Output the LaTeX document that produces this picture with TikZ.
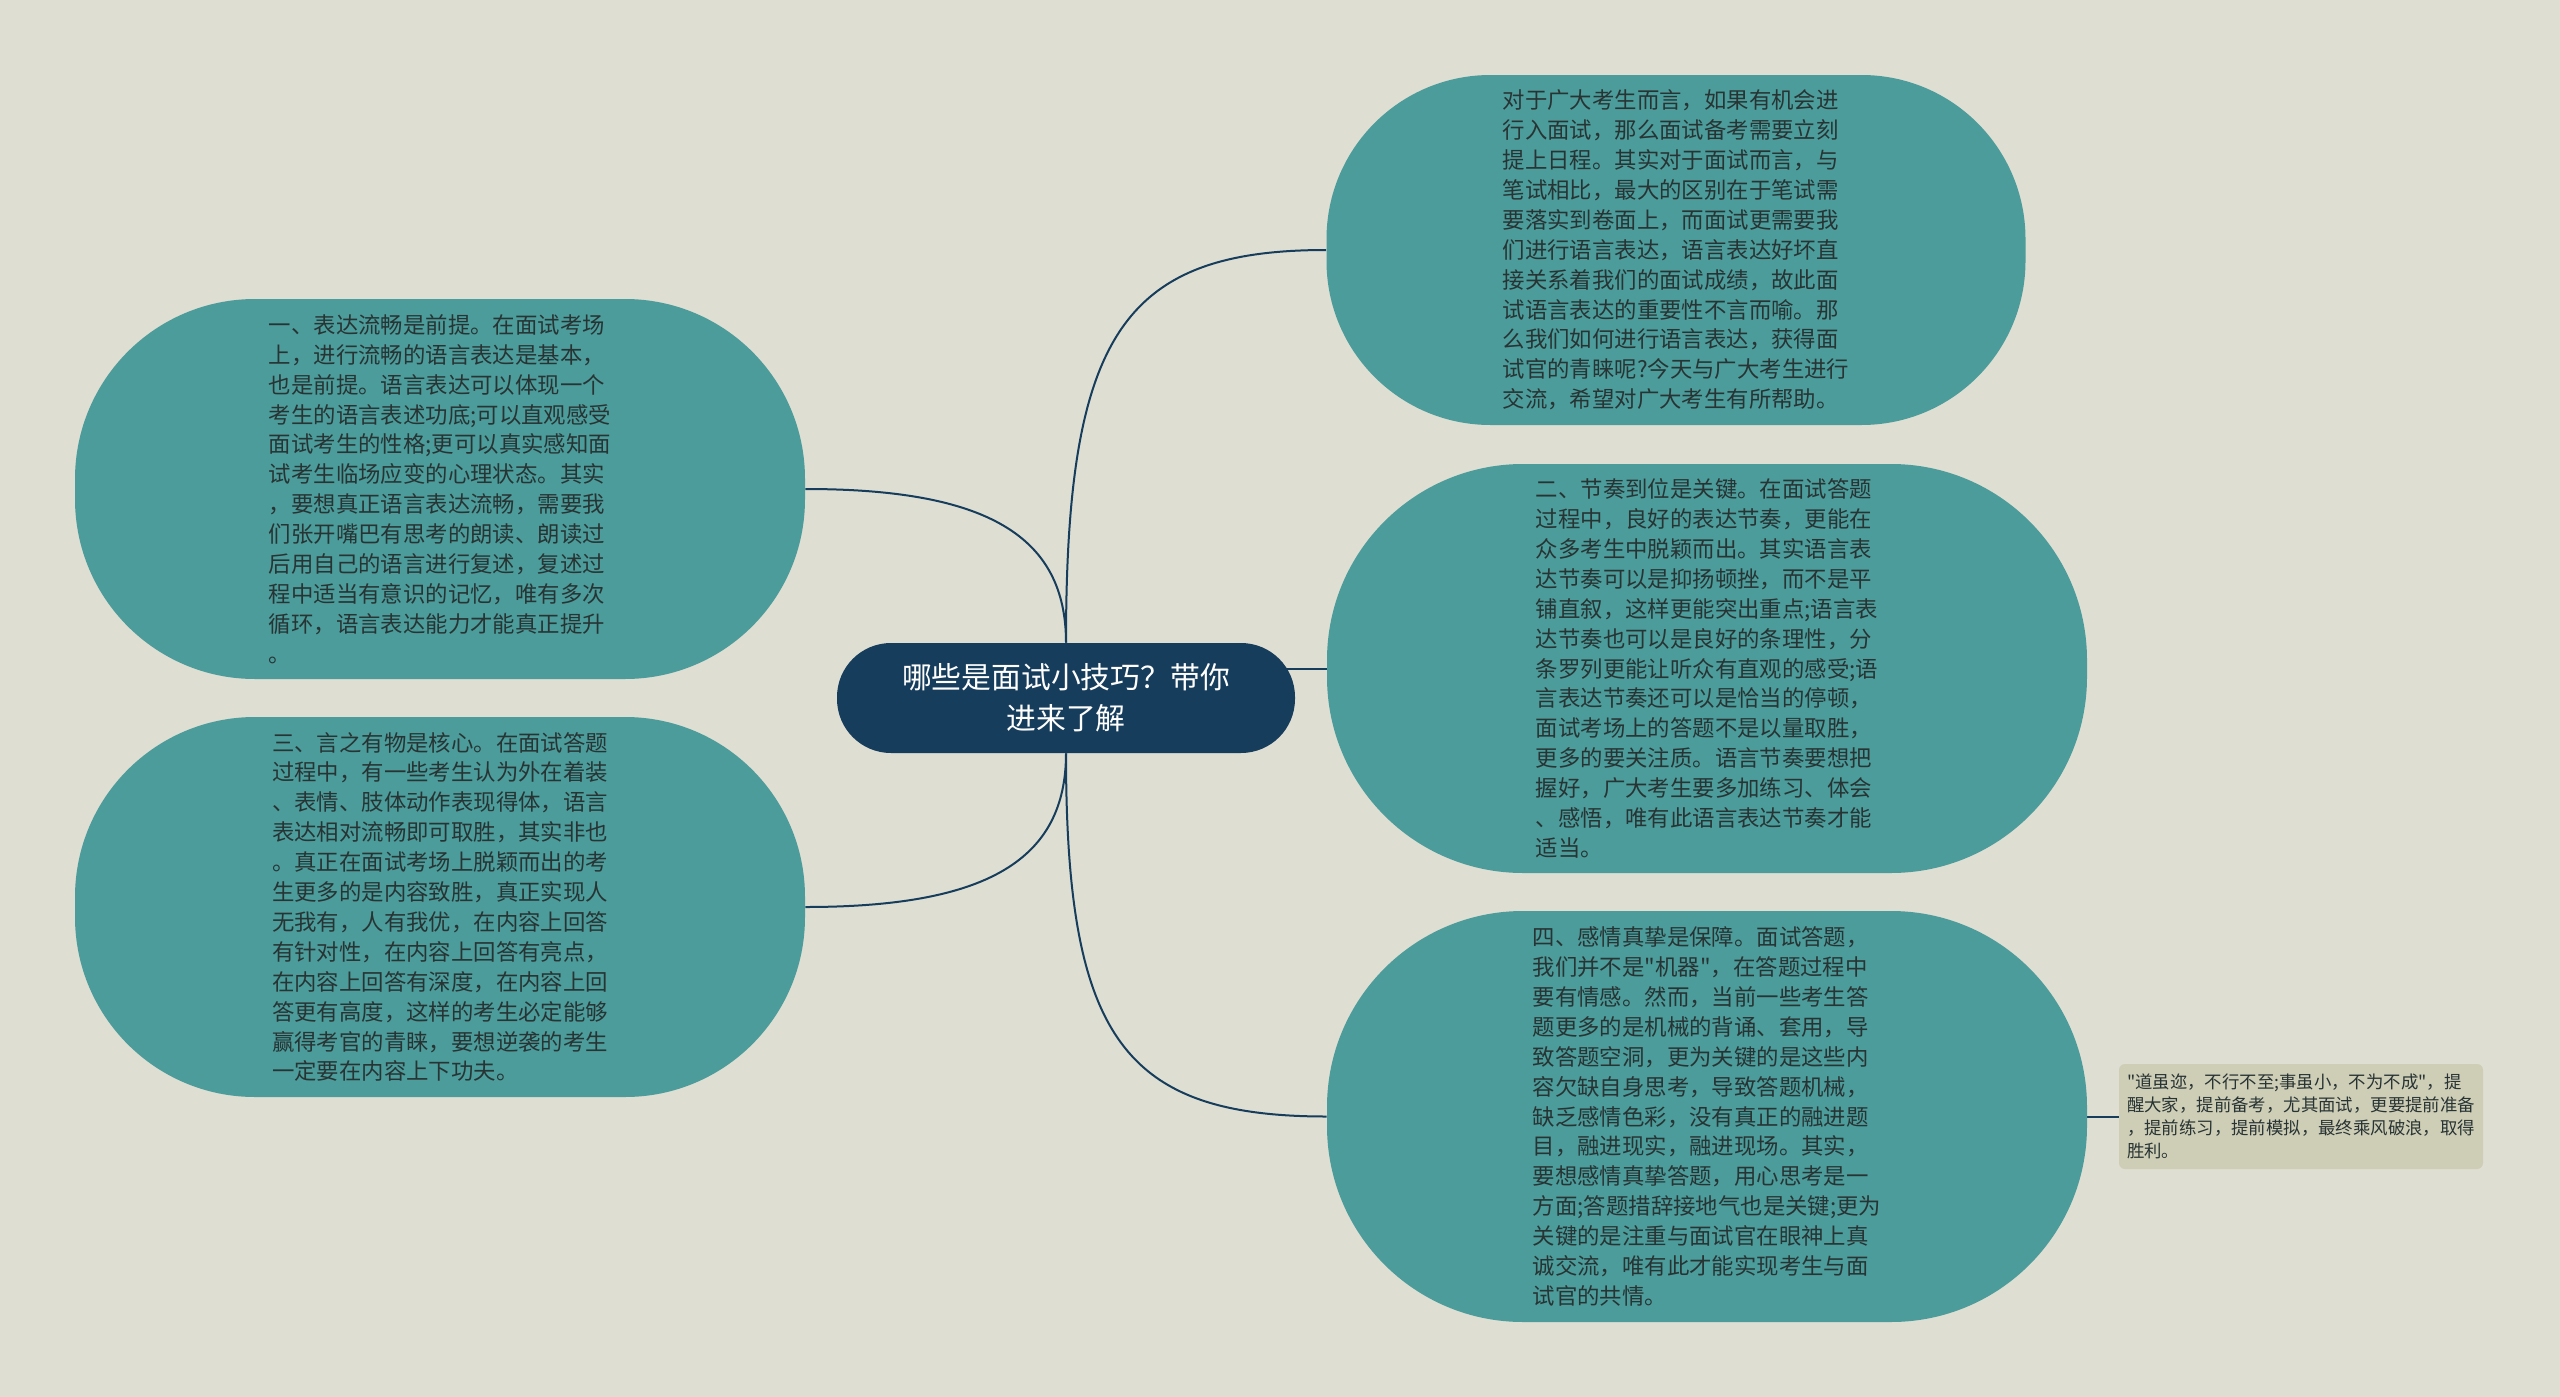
\documentclass[tikz,border=0pt]{standalone}
\usepackage{fontspec}
\setmainfont{Noto Sans CJK SC}[Ligatures=TeXOff]
\definecolor{paper}{RGB}{223,222,210}
\definecolor{navy}{RGB}{23,61,92}
\definecolor{leaf}{RGB}{75,156,155}
\definecolor{ink}{RGB}{40,52,52}
\definecolor{memo}{RGB}{206,205,182}
\pgfdeclarelayer{bg}
\pgfdeclarelayer{edges}
\pgfsetlayers{bg,edges,main}

\begin{document}
\begin{tikzpicture}[
    x=0.5pt, y=-0.5pt,
    topic/.style={%
      fill=navy,
      text=white,
      rounded corners=27pt,
      minimum width=229pt,
      minimum height=55pt,
      inner sep=0pt,
      align=center,
      font=\fontsize{14.9}{20.4}\selectfont,
    },
    branch/.style={%
      fill=leaf,
      text=ink,
      inner sep=0pt,
      align=left,
      font=\fontsize{11.2}{14.95}\selectfont,
    },
    remark/.style={%
      fill=memo,
      text=ink,
      rounded corners=3pt,
      minimum width=182pt,
      minimum height=52.5pt,
      inner sep=0pt,
      align=left,
      font=\fontsize{8.7}{11.4}\selectfont,
    },
    link/.style={%
      draw=navy,
      line width=1pt,
    },
  ]
    \useasboundingbox (0,0) rectangle (2560,1397);
    \begin{pgfonlayer}{bg}
      \fill [paper] (0,0) rectangle (2560,1397);
    \end{pgfonlayer}

    \node [topic] (c) at (1066,698) {哪些是面试小技巧？带你\\进来了解};
    \path (c) ++(610,-448) node [branch, minimum width=349.5pt, minimum height=175pt, rounded corners=82pt] (intro) {%
      对于广大考生而言，如果有机会进\\
      行入面试，那么面试备考需要立刻\\
      提上日程。其实对于面试而言，与\\
      笔试相比，最大的区别在于笔试需\\
      要落实到卷面上，而面试更需要我\\
      们进行语言表达，语言表达好坏直\\
      接关系着我们的面试成绩，故此面\\
      试语言表达的重要性不言而喻。那\\
      么我们如何进行语言表达，获得面\\
      试官的青睐呢?今天与广大考生进行\\
      交流，希望对广大考生有所帮助。};
    \path (c) ++(-626,-209) node [branch, minimum width=365pt, minimum height=190pt, rounded corners=90pt] (one) {%
      一、表达流畅是前提。在面试考场\\
      上，进行流畅的语言表达是基本，\\
      也是前提。语言表达可以体现一个\\
      考生的语言表述功底;可以直观感受\\
      面试考生的性格;更可以真实感知面\\
      试考生临场应变的心理状态。其实\\
      ，要想真正语言表达流畅，需要我\\
      们张开嘴巴有思考的朗读、朗读过\\
      后用自己的语言进行复述，复述过\\
      程中适当有意识的记忆，唯有多次\\
      循环，语言表达能力才能真正提升\\
      。};
    \path (c) ++(-626,209) node [branch, minimum width=365pt, minimum height=190pt, rounded corners=90pt] (three) {%
      三、言之有物是核心。在面试答题\\
      过程中，有一些考生认为外在着装\\
      、表情、肢体动作表现得体，语言\\
      表达相对流畅即可取胜，其实非也\\
      。真正在面试考场上脱颖而出的考\\
      生更多的是内容致胜，真正实现人\\
      无我有，人有我优，在内容上回答\\
      有针对性，在内容上回答有亮点，\\
      在内容上回答有深度，在内容上回\\
      答更有高度，这样的考生必定能够\\
      赢得考官的青睐，要想逆袭的考生\\
      一定要在内容上下功夫。};
    \path (c) ++(641,-29.5) node [branch, minimum width=380pt, minimum height=204.5pt, rounded corners=98pt] (two) {%
      二、节奏到位是关键。在面试答题\\
      过程中，良好的表达节奏，更能在\\
      众多考生中脱颖而出。其实语言表\\
      达节奏可以是抑扬顿挫，而不是平\\
      铺直叙，这样更能突出重点;语言表\\
      达节奏也可以是良好的条理性，分\\
      条罗列更能让听众有直观的感受;语\\
      言表达节奏还可以是恰当的停顿，\\
      面试考场上的答题不是以量取胜，\\
      更多的要关注质。语言节奏要想把\\
      握好，广大考生要多加练习、体会\\
      、感悟，唯有此语言表达节奏才能\\
      适当。};
    \path (c) ++(641,418.5) node [branch, minimum width=380pt, minimum height=205.5pt, rounded corners=98pt] (four) {%
      四、感情真挚是保障。面试答题，\\
      我们并不是"机器"，在答题过程中\\
      要有情感。然而，当前一些考生答\\
      题更多的是机械的背诵、套用，导\\
      致答题空洞，更为关键的是这些内\\
      容欠缺自身思考，导致答题机械，\\
      缺乏感情色彩，没有真正的融进题\\
      目，融进现实，融进现场。其实，\\
      要想感情真挚答题，用心思考是一\\
      方面;答题措辞接地气也是关键;更为\\
      关键的是注重与面试官在眼神上真\\
      诚交流，唯有此才能实现考生与面\\
      试官的共情。};
    \path (four) ++(594,0) node [remark] (tip) {%
      "道虽迩，不行不至;事虽小，不为不成"，提\\
      醒大家，提前备考，尤其面试，更要提前准备\\
      ，提前练习，提前模拟，最终乘风破浪，取得\\
      胜利。};

    \begin{pgfonlayer}{edges}
      \draw [link] (c.north) .. controls +(0,-306) and +(-204,0) .. (intro.west);
      \draw [link] (c.north) .. controls +(0,-107) and +(181,0) .. (one.east);
      \draw [link] (c.south) .. controls +(0,107) and +(181,0) .. (three.east);
      \draw [link] (c.center |- two.west) -- (two.west);
      \draw [link] (c.south) .. controls +(0,283) and +(-204,0) .. (four.west);
      \draw [link] (four.east) -- (tip.west);
    \end{pgfonlayer}
\end{tikzpicture}
\end{document}
